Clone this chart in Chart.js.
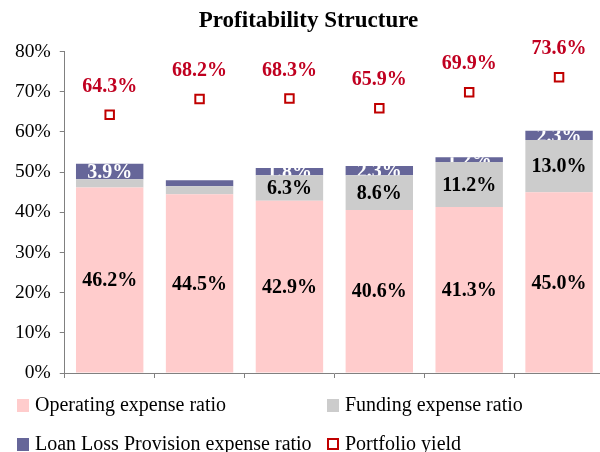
<!DOCTYPE html>
<html>
<head>
<meta charset="utf-8">
<script src="https://cdn.jsdelivr.net/npm/chart.js@4/dist/chart.umd.min.js"></script>
<style>
  html, body { margin: 0; padding: 0; background: #fff; }
  #wrap { position: relative; width: 600px; height: 452px; overflow: hidden; }
  #cv { position: absolute; left: 0; top: 0; }
  .leg { position: absolute; font-family: "Liberation Serif", "Times New Roman", serif; font-size: 20px; color: #000; line-height: 20px; white-space: nowrap; }
  .box { position: absolute; width: 12px; height: 13px; box-sizing: border-box; }
</style>
</head>
<body>
<div id="wrap">
  <canvas id="cv" width="612" height="452" style="width:612px;height:452px"></canvas>
  <div class="box" style="left:17px;top:399px;background:#FFCCCC"></div>
  <div class="leg" style="left:35px;top:394px">Operating expense ratio</div>
  <div class="box" style="left:327px;top:399px;background:#CCCCCC"></div>
  <div class="leg" style="left:345px;top:394px">Funding expense ratio</div>
  <div class="box" style="left:17px;top:438px;background:#666699"></div>
  <div class="leg" style="left:35px;top:433px">Loan Loss Provision expense ratio</div>
  <div class="box" style="left:327px;top:438px;border:2px solid #C00000;background:#fff;width:12px;height:12px"></div>
  <div class="leg" style="left:345px;top:433px">Portfolio yield</div>
</div>
<script>
const categories = ["1", "2", "3", "4", "5", "6"];
const operatingExpense = [46.2, 44.5, 42.9, 40.6, 41.3, 45.0];
const fundingExpense = [2.0, 2.0, 6.3, 8.6, 11.2, 13.0];
const loanLossProvision = [3.9, 1.5, 1.8, 2.3, 1.2, 2.3];
const portfolioYield = [64.3, 68.2, 68.3, 65.9, 69.9, 73.6];
const operatingLabels = ["46.2%", "44.5%", "42.9%", "40.6%", "41.3%", "45.0%"];
const fundingLabels = [null, null, "6.3%", "8.6%", "11.2%", "13.0%"];
const llpLabels = ["3.9%", null, "1.8%", "2.3%", "1.2%", "2.3%"];
const yieldLabels = ["64.3%", "68.2%", "68.3%", "65.9%", "69.9%", "73.6%"];
const yTicks = [0, 10, 20, 30, 40, 50, 60, 70, 80];

const FONT = '"Liberation Serif", "Times New Roman", serif';

const labelPlugin = {
  id: 'segLabels',
  afterDatasetsDraw(chart) {
    const ctx = chart.ctx;
    ctx.save();
    ctx.font = 'bold 20px ' + FONT;
    ctx.textAlign = 'center';
    ctx.textBaseline = 'middle';
    const sets = [
      {idx: 0, labels: operatingLabels, color: '#000', clip: false},
      {idx: 1, labels: fundingLabels, color: '#000', clip: false},
      {idx: 2, labels: llpLabels, color: '#fff', clip: true}
    ];
    sets.forEach(s => {
      const meta = chart.getDatasetMeta(s.idx);
      meta.data.forEach((el, i) => {
        const t = s.labels[i];
        if (!t) return;
        const top = Math.min(el.y, el.base), bot = Math.max(el.y, el.base);
        const cy = (top + bot) / 2;
        ctx.save();
        if (s.clip) {
          ctx.beginPath();
          ctx.rect(el.x - el.width / 2, top, el.width, bot - top);
          ctx.clip();
        }
        ctx.fillStyle = s.color;
        ctx.fillText(t, el.x, cy + 1);
        ctx.restore();
      });
    });
    const lm = chart.getDatasetMeta(3);
    ctx.fillStyle = '#C00020';
    lm.data.forEach((el, i) => {
      ctx.fillText(yieldLabels[i], el.x, el.y - 28);
    });
    ctx.restore();
  }
};

new Chart(document.getElementById('cv'), {
  type: 'bar',
  data: {
    labels: categories,
    datasets: [
      {label: 'Operating expense ratio', data: operatingExpense, backgroundColor: '#FFCCCC', stack: 's', order: 1},
      {label: 'Funding expense ratio', data: fundingExpense, backgroundColor: '#CCCCCC', stack: 's', order: 1},
      {label: 'Loan Loss Provision expense ratio', data: loanLossProvision, backgroundColor: '#666699', stack: 's', order: 1},
      {type: 'line', label: 'Portfolio yield', data: portfolioYield, showLine: false, stack: 'y', order: 0,
       pointStyle: 'rect', pointRadius: 6, pointBorderWidth: 2, pointBorderColor: '#C00000', pointBackgroundColor: '#fff'}
    ]
  },
  options: {
    responsive: false,
    animation: false,
    events: [],
    layout: {padding: {left: 6, right: 1, top: 0, bottom: 74}},
    datasets: {bar: {categoryPercentage: 1, barPercentage: 0.75}},
    plugins: {
      legend: {display: false},
      tooltip: {enabled: false},
      title: {display: true, text: 'Profitability Structure', color: '#000',
        font: {family: FONT, size: 23, weight: 'bold'}, padding: {top: 7, bottom: 17}}
    },
    scales: {
      x: {
        stacked: true,
        grid: {display: true, drawOnChartArea: false, drawTicks: true, tickLength: 5, color: '#808080', offset: true},
        border: {display: true, color: '#808080', width: 1},
        ticks: {display: false}
      },
      y: {
        stacked: true,
        min: 0, max: 80,
        afterBuildTicks(scale) { scale.ticks = yTicks.map(v => ({value: v})); },
        grid: {display: true, drawOnChartArea: false, drawTicks: true, tickLength: 5, color: '#808080'},
        border: {display: true, color: '#808080', width: 1},
        ticks: {color: '#000', padding: 9, font: {family: FONT, size: 19.5}, callback: v => v + '%'}
      }
    }
  },
  plugins: [labelPlugin]
});
</script>
</body>
</html>
